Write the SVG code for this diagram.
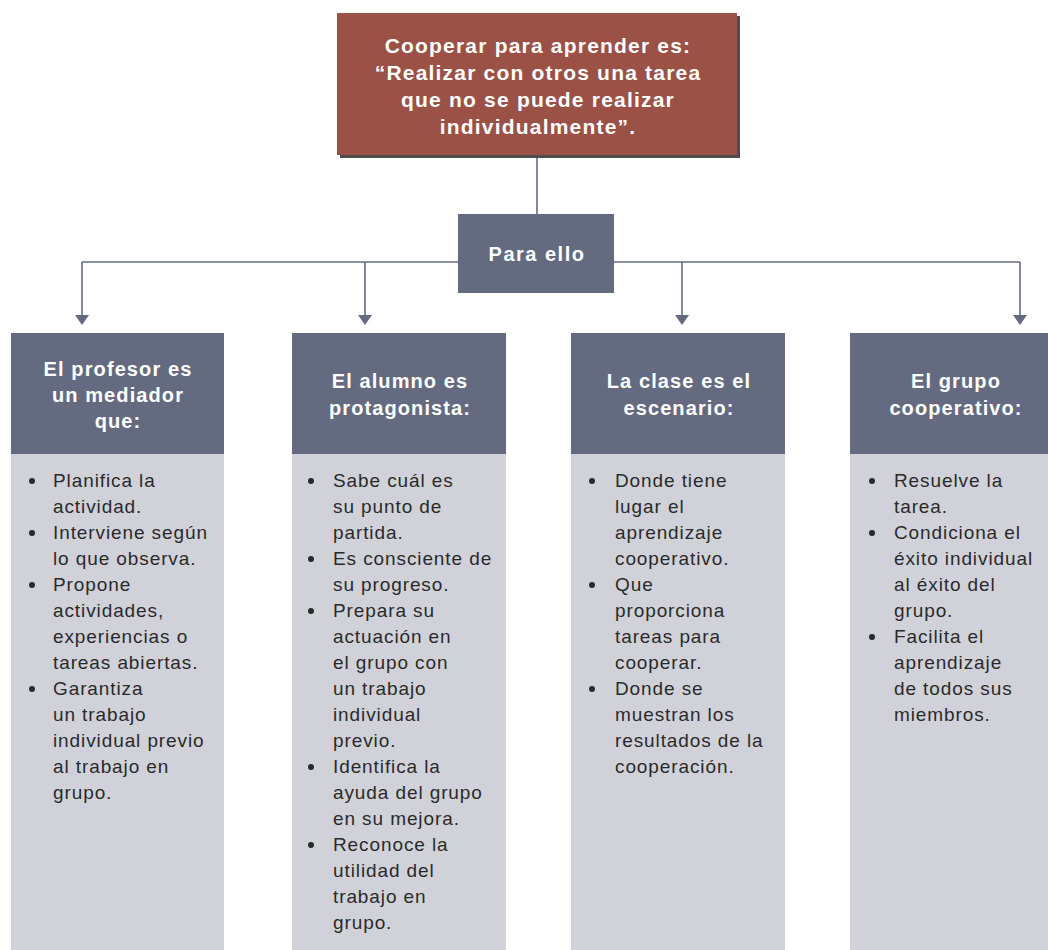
<svg xmlns="http://www.w3.org/2000/svg" width="1048" height="950" viewBox="0 0 1048 950">
<defs>
<style>
.hd{fill:#646b80}
.bd{fill:#d1d2d9}
.ht{font-family:"Liberation Sans",Arial,sans-serif;font-weight:bold;font-size:20px;letter-spacing:1.1px;fill:#ffffff;text-anchor:middle}
.pe{font-family:"Liberation Sans",Arial,sans-serif;font-weight:bold;font-size:20px;letter-spacing:1.5px;fill:#ffffff;text-anchor:middle}
.tt{font-family:"Liberation Sans",Arial,sans-serif;font-weight:bold;font-size:21px;letter-spacing:1.2px;fill:#ffffff;text-anchor:middle}
.bt{font-family:"Liberation Sans",Arial,sans-serif;font-size:19px;letter-spacing:0.9px;fill:#2a2a2a}
.cn{stroke:#646b80;stroke-width:1.6;fill:none}
</style>
</defs>
<g id="connectors">
<line class="cn" x1="537" y1="155" x2="537" y2="214"/>
<line class="cn" x1="82" y1="262" x2="1020" y2="262"/>
<line class="cn" x1="82" y1="262" x2="82" y2="315"/>
<line class="cn" x1="365" y1="262" x2="365" y2="315"/>
<line class="cn" x1="682" y1="262" x2="682" y2="315"/>
<line class="cn" x1="1020" y1="262" x2="1020" y2="315"/>
<path d="M75,315 L89,315 L82,325 Z" fill="#646b80"/>
<path d="M358,315 L372,315 L365,325 Z" fill="#646b80"/>
<path d="M675,315 L689,315 L682,325 Z" fill="#646b80"/>
<path d="M1013,315 L1027,315 L1020,325 Z" fill="#646b80"/>
</g>
<g id="top">
<rect x="340" y="16" width="400" height="142" fill="#4d4d4d"/>
<rect x="337" y="13" width="400" height="142" fill="#9b5146"/>
<text class="tt" x="538" y="53">Cooperar para aprender es:</text>
<text class="tt" x="538" y="80">“Realizar con otros una tarea</text>
<text class="tt" x="538" y="107">que no se puede realizar</text>
<text class="tt" x="538" y="134">individualmente”.</text>
</g>
<g id="paraello">
<rect class="hd" x="458" y="214" width="156" height="79"/>
<text class="pe" x="537" y="261">Para ello</text>
</g>
<g id="col1">
<rect class="hd" x="11" y="333" width="213" height="121"/>
<rect class="bd" x="11" y="454" width="213" height="496"/>
<text class="ht" x="118" y="376">El profesor es</text>
<text class="ht" x="118" y="402">un mediador</text>
<text class="ht" x="118" y="428">que:</text>
<g class="bt">
<circle cx="32" cy="481" r="3" fill="#2a2a2a"/>
<text x="53" y="487">Planifica la</text>
<text x="53" y="513">actividad.</text>
<circle cx="32" cy="533" r="3" fill="#2a2a2a"/>
<text x="53" y="539">Interviene según</text>
<text x="53" y="565">lo que observa.</text>
<circle cx="32" cy="585" r="3" fill="#2a2a2a"/>
<text x="53" y="591">Propone</text>
<text x="53" y="617">actividades,</text>
<text x="53" y="643">experiencias o</text>
<text x="53" y="669">tareas abiertas.</text>
<circle cx="32" cy="689" r="3" fill="#2a2a2a"/>
<text x="53" y="695">Garantiza</text>
<text x="53" y="721">un trabajo</text>
<text x="53" y="747">individual previo</text>
<text x="53" y="773">al trabajo en</text>
<text x="53" y="799">grupo.</text>
</g>
</g>
<g id="col2">
<rect class="hd" x="292" y="333" width="214" height="121"/>
<rect class="bd" x="292" y="454" width="214" height="496"/>
<text class="ht" x="400" y="388">El alumno es</text>
<text class="ht" x="400" y="415">protagonista:</text>
<g class="bt">
<circle cx="311" cy="481" r="3" fill="#2a2a2a"/>
<text x="333" y="487">Sabe cuál es</text>
<text x="333" y="513">su punto de</text>
<text x="333" y="539">partida.</text>
<circle cx="311" cy="559" r="3" fill="#2a2a2a"/>
<text x="333" y="565">Es consciente de</text>
<text x="333" y="591">su progreso.</text>
<circle cx="311" cy="611" r="3" fill="#2a2a2a"/>
<text x="333" y="617">Prepara su</text>
<text x="333" y="643">actuación en</text>
<text x="333" y="669">el grupo con</text>
<text x="333" y="695">un trabajo</text>
<text x="333" y="721">individual</text>
<text x="333" y="747">previo.</text>
<circle cx="311" cy="767" r="3" fill="#2a2a2a"/>
<text x="333" y="773">Identifica la</text>
<text x="333" y="799">ayuda del grupo</text>
<text x="333" y="825">en su mejora.</text>
<circle cx="311" cy="845" r="3" fill="#2a2a2a"/>
<text x="333" y="851">Reconoce la</text>
<text x="333" y="877">utilidad del</text>
<text x="333" y="903">trabajo en</text>
<text x="333" y="929">grupo.</text>
</g>
</g>
<g id="col3">
<rect class="hd" x="571" y="333" width="214" height="121"/>
<rect class="bd" x="571" y="454" width="214" height="496"/>
<text class="ht" x="679" y="388">La clase es el</text>
<text class="ht" x="679" y="415">escenario:</text>
<g class="bt">
<circle cx="592" cy="481" r="3" fill="#2a2a2a"/>
<text x="615" y="487">Donde tiene</text>
<text x="615" y="513">lugar el</text>
<text x="615" y="539">aprendizaje</text>
<text x="615" y="565">cooperativo.</text>
<circle cx="592" cy="585" r="3" fill="#2a2a2a"/>
<text x="615" y="591">Que</text>
<text x="615" y="617">proporciona</text>
<text x="615" y="643">tareas para</text>
<text x="615" y="669">cooperar.</text>
<circle cx="592" cy="689" r="3" fill="#2a2a2a"/>
<text x="615" y="695">Donde se</text>
<text x="615" y="721">muestran los</text>
<text x="615" y="747">resultados de la</text>
<text x="615" y="773">cooperación.</text>
</g>
</g>
<g id="col4">
<rect class="hd" x="850" y="333" width="198" height="121"/>
<rect class="bd" x="850" y="454" width="198" height="496"/>
<text class="ht" x="956" y="388">El grupo</text>
<text class="ht" x="956" y="415">cooperativo:</text>
<g class="bt">
<circle cx="872" cy="481" r="3" fill="#2a2a2a"/>
<text x="894" y="487">Resuelve la</text>
<text x="894" y="513">tarea.</text>
<circle cx="872" cy="533" r="3" fill="#2a2a2a"/>
<text x="894" y="539">Condiciona el</text>
<text x="894" y="565">éxito individual</text>
<text x="894" y="591">al éxito del</text>
<text x="894" y="617">grupo.</text>
<circle cx="872" cy="637" r="3" fill="#2a2a2a"/>
<text x="894" y="643">Facilita el</text>
<text x="894" y="669">aprendizaje</text>
<text x="894" y="695">de todos sus</text>
<text x="894" y="721">miembros.</text>
</g>
</g>
</svg>
